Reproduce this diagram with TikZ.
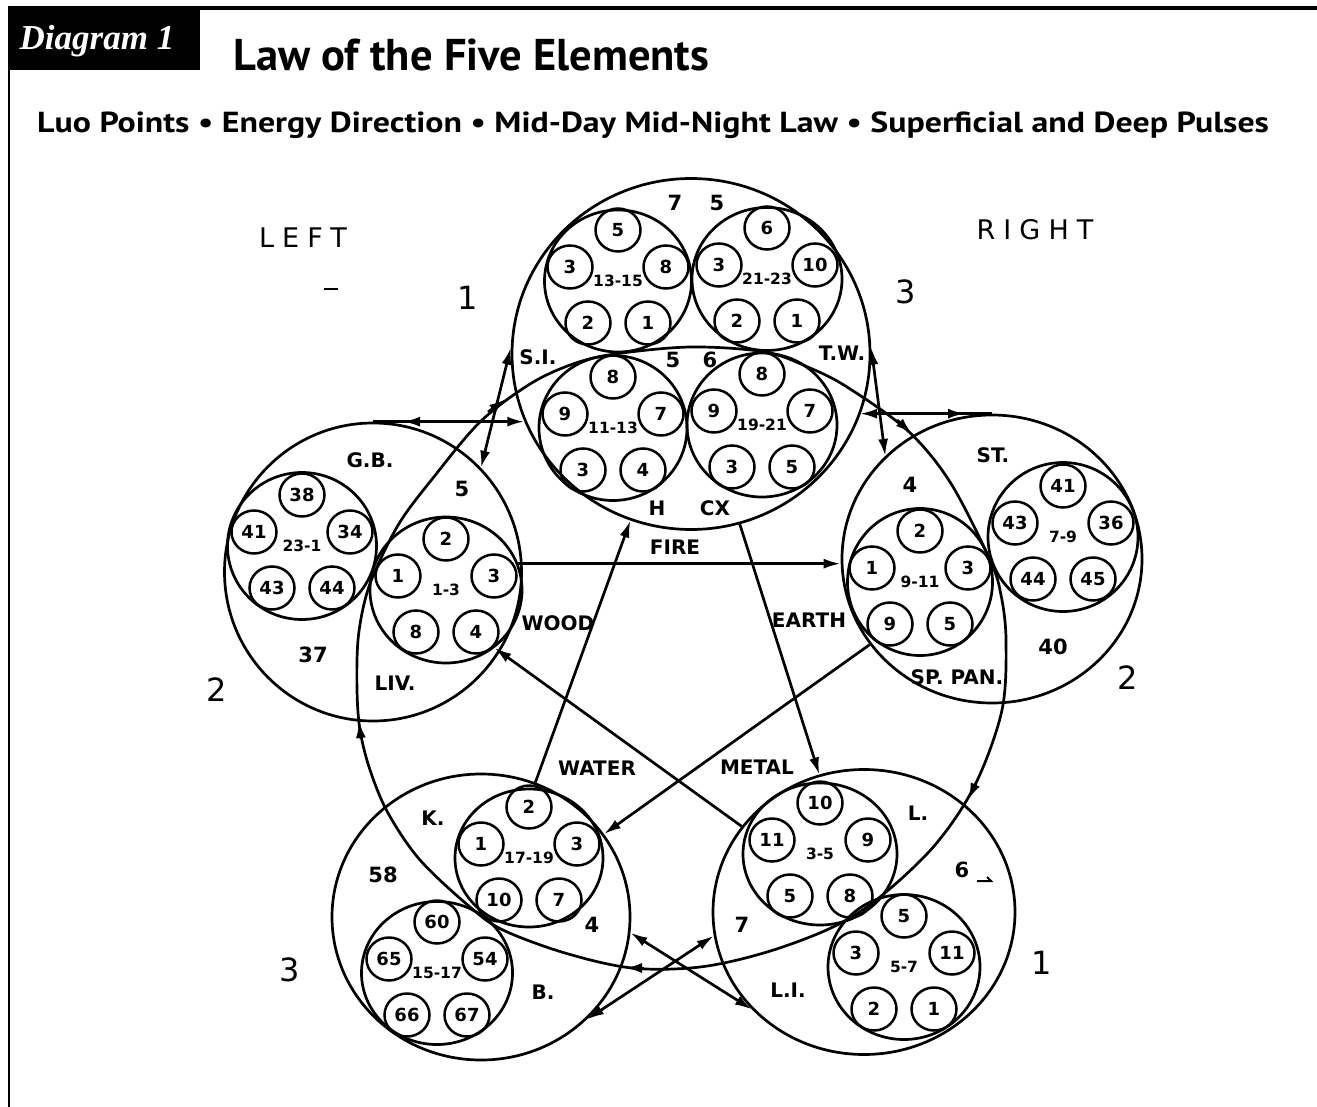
\documentclass[tikz,border=0pt]{standalone}
\usepackage{fontspec}
\setmainfont{DejaVu Sans}
\newfontfamily\hdr{PT Sans}
\newfontfamily\dgm{Liberation Serif}
\newfontfamily\lr[LetterSpace=30]{DejaVu Sans}
\usetikzlibrary{arrows.meta,shapes.geometric}
\newcommand\pentad[9]{%
  \node[innc,#3] (#1) at (#2) {};
  \node[rng] (#1-r) at (#1.center) {#4};
  \path (#1.center) ++(0,-51) node[sm] (#1-a) {#5};
  \path (#1.center) ++(-48,-14) node[sm] (#1-b) {#6};
  \path (#1.center) ++(48,-14) node[sm] (#1-c) {#7};
  \path (#1.center) ++(-30,42) node[sm] (#1-d) {#8};
  \path (#1.center) ++(30,42) node[sm] (#1-e) {#9};
}
\begin{document}
\begin{tikzpicture}[x=1pt,y=-1pt,
  ln/.style={line width=2.7pt},
  arw/.style={-{Latex[length=17pt,width=10pt]}},
  dtip/.style={{Latex[length=17pt,width=10pt]}-{Latex[length=17pt,width=10pt]}},
  bigc/.style={ellipse,draw,line width=2.7pt,inner sep=0pt},
  innc/.style={ellipse,draw,line width=2.7pt,inner sep=0pt},
  sm/.style={ellipse,draw,line width=2.5pt,minimum width=45pt,minimum height=43pt,inner sep=0pt,font=\bfseries\fontsize{18}{18}\selectfont},
  rng/.style={font=\bfseries\fontsize{15.5}{15.5}\selectfont},
  org/.style={font=\bfseries\fontsize{20}{20}\selectfont},
  numl/.style={font=\bfseries\fontsize{21}{21}\selectfont},
  bignum/.style={font=\fontsize{32}{32}\selectfont},
  sidel/.style={font=\lr\fontsize{27}{27}\selectfont}]
\useasboundingbox (0,0) rectangle (1317,1107);
% header frame
\draw[line width=3.5pt] (8,8) -- (1317,8);
\draw[line width=2pt] (9,8) -- (9,1107);
\fill (8,8) rectangle (200,70);
\node[text=white,font=\dgm\bfseries\itshape\fontsize{35}{35}\selectfont] (dg) at (97,41) {Diagram 1};
\node[anchor=base west,inner sep=0pt,font=\hdr\bfseries\fontsize{44.5}{44.5}\selectfont] (title) at (233,71) {Law of the Five Elements};
\node[anchor=base west,inner sep=0pt,font=\hdr\bfseries\fontsize{29}{29}\selectfont] (sub) at (37,133) {\scalebox{1.167}[1]{Luo Points • Energy Direction • Mid-Day Mid-Night Law • Superficial and Deep Pulses}};
% big element circles
\node[bigc,minimum width=358pt,minimum height=351pt] (fire) at (691,354) {};
\node[bigc,minimum width=297pt,minimum height=298pt] (wood) at (373,572) {};
\node[bigc,minimum width=300pt,minimum height=288pt] (earth) at (992,559) {};
\node[bigc,minimum width=298pt,minimum height=286pt] (water) at (481,917) {};
\node[bigc,minimum width=302pt,minimum height=285pt] (metal) at (864,912) {};
% organ circles with points
\pentad{si}{618,281}{minimum width=147pt,minimum height=142pt}{13-15}{5}{3}{8}{2}{1}
\pentad{tw}{767,279}{minimum width=150pt,minimum height=143pt}{21-23}{6}{3}{10}{2}{1}
\pentad{ht}{613,428}{minimum width=148pt,minimum height=145pt}{11-13}{8}{9}{7}{3}{4}
\pentad{cx}{762,425}{minimum width=150pt,minimum height=144pt}{19-21}{8}{9}{7}{3}{5}
\pentad{gb}{302,546}{minimum width=149pt,minimum height=147pt}{23-1}{38}{41}{34}{43}{44}
\pentad{liv}{446,590}{minimum width=152pt,minimum height=146pt}{1-3}{2}{1}{3}{8}{4}
\pentad{sp}{920,582}{minimum width=145pt,minimum height=147pt}{9-11}{2}{1}{3}{9}{5}
\pentad{st}{1063,537}{minimum width=150pt,minimum height=149pt}{7-9}{41}{43}{36}{44}{45}
\pentad{kd}{529,858}{minimum width=148pt,minimum height=138pt}{17-19}{2}{1}{3}{10}{7}
\pentad{bl}{437,973}{minimum width=151pt,minimum height=143pt}{15-17}{60}{65}{54}{66}{67}
\pentad{lu}{820,854}{minimum width=154pt,minimum height=142pt}{3-5}{10}{11}{9}{5}{8}
\pentad{li}{904,967}{minimum width=152pt,minimum height=145pt}{5-7}{5}{3}{11}{2}{1}
% mid-day mid-night circle
\coordinate (tFire) at (691,347);
\coordinate (tEarth) at (990,560);
\coordinate (tMetal) at (880,897);
\coordinate (tWater) at (470,907);
\coordinate (tWood) at (376,569);
\draw[ln] plot[smooth cycle, tension=0.55] coordinates {(tWood) (400,522) (433,478) (480,422) (530,384) (573,364) (615,354) (tFire) (765,352) (810,368) (847,387) (907,430) (950,482) (tEarth) (1001,595) (1006,640) (1002,710) (975,785) (935,845) (tMetal) (833,927) (767,952) (700,967) (632,968) (565,953) (503,930) (tWater) (420,860) (388,813) (370,770) (360,730) (357,690) (358,640) (365,600)};
\draw[ln,arw] (488,412) -- (506,399);
\draw[ln,arw] (897,420) -- (912,434);
\draw[ln,arw] (976,783) -- (968,800);
\draw[ln,arw] (644,968) -- (625,968);
\draw[ln,arw] (361,739) -- (359,721);
% star of control
\draw[ln,arw] (liv.20) -- (liv.20 -| earth.west);
\draw[ln,arw] (water.68) -- (fire.250);
\draw[ln,arw] (fire.286) -- (metal.108);
\draw[ln,arw] (earth.215) -- (water.34);
\draw[ln,arw] (metal.145) -- (liv.310);
% luo connectors
\draw[ln,arw] (wood.north) -- (fire.202 |- wood.north);
\draw[ln,arw] ([xshift=50pt]wood.north) -- ([xshift=30pt]wood.north);
\draw[ln,arw] (earth.north) -- (fire.340 |- earth.north);
\draw[ln,arw] ([xshift=-47pt]earth.north) -- ([xshift=-27pt]earth.north);
\draw[ln,dtip] (wood.44) -- (fire.178);
\draw[ln,dtip] (earth.136) -- (fire.2);
\draw[ln,dtip] (water.354) -- (metal.221);
\draw[ln,dtip] (metal.189) -- (water.316);
% labels fire
\node[numl] (f7) at (675,203) {7};
\node[numl] (f5) at (717,203) {5};
\node[org] (lsi) at (538,357) {S.I.};
\node[numl] (f5b) at (673,360) {5};
\node[numl] (f6) at (710,360) {6};
\node[org] (ltw) at (842,353) {T.W.};
\node[org] (lh) at (657,508) {H};
\node[org] (lcx) at (715,508) {CX};
% wood
\node[org] (lgb) at (370,460) {G.B.};
\node[numl] (w5) at (462,489) {5};
\node[numl] (w37) at (313,655) {37};
\node[org] (lliv) at (395,683) {LIV.};
% earth
\node[org] (lst) at (993,455) {ST.};
\node[numl] (e4) at (910,485) {4};
\node[numl] (e40) at (1053,647) {40};
\node[org] (lsp) at (957,677) {SP. PAN.};
% water
\node[org] (lk) at (433,818) {K.};
\node[numl] (a58) at (383,875) {58};
\node[numl] (a4) at (592,925) {4};
\node[org] (lb) at (543,992) {B.};
% metal
\node[org] (ll) at (918,813) {L.};
\node[numl] (m6) at (962,870) {6};
\draw[line width=2pt] (977,881) -- (991,881) -- (987,877);
\node[numl] (m7) at (742,925) {7};
\node[org] (lli) at (788,990) {L.I.};
% star labels
\node[org] (lfire) at (675,547) {FIRE};
\node[org] (lwood) at (558,623) {WOOD};
\node[org] (learth) at (809,620) {EARTH};
\node[org] (lwater) at (597,768) {WATER};
\node[org] (lmetal) at (757,767) {METAL};
% side labels
\node[sidel] (left) at (303,238) {LEFT};
\draw[line width=2.2pt] (324,289) -- (338,289);
\node[sidel] (right) at (1035,230) {RIGHT};
\node[bignum] (o1) at (468,298) {1};
\node[bignum] (o3) at (906,292) {3};
\node[bignum] (o2) at (217,690) {2};
\node[bignum] (o2b) at (1128,678) {2};
\node[bignum] (o3b) at (290,970) {3};
\node[bignum] (o1b) at (1042,963) {1};
\end{tikzpicture}
\end{document}
